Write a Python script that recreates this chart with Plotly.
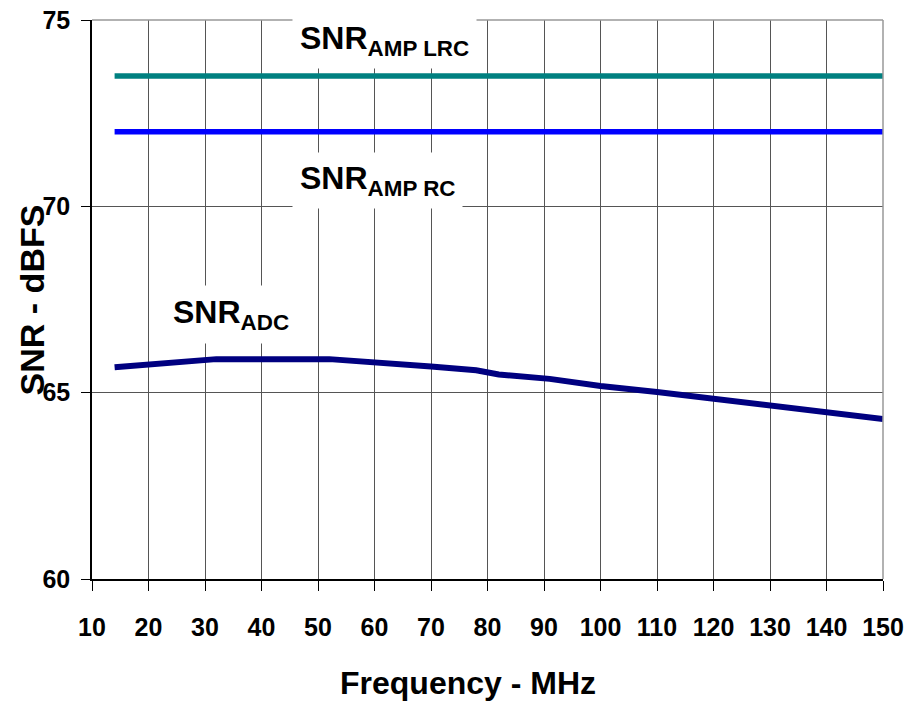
import plotly.graph_objects as go

# ---- data ----
freq_adc = [14, 26, 32, 52, 61, 70, 78, 82, 91, 100, 110, 120, 130, 140, 150]
snr_adc = [65.68, 65.80, 65.90, 65.90, 65.78, 65.70, 65.60, 65.49, 65.37,
           65.18, 65.02, 64.83, 64.64, 64.45, 64.29]
freq_amp = [14, 150]
snr_amp_lrc = [73.5, 73.5]
snr_amp_rc = [72.0, 72.0]
x_ticks = list(range(10, 151, 10))
y_ticks = [60, 65, 70, 75]

FONT = "Liberation Sans, Arial"

fig = go.Figure()
fig.add_trace(go.Scatter(x=freq_amp, y=snr_amp_lrc, mode="lines",
                         line=dict(color="#008080", width=5.5)))
fig.add_trace(go.Scatter(x=freq_amp, y=snr_amp_rc, mode="lines",
                         line=dict(color="#0000FF", width=5.5)))
fig.add_trace(go.Scatter(x=freq_adc, y=snr_adc, mode="lines",
                         line=dict(color="#000080", width=6)))

fig.update_layout(
    width=906, height=711,
    margin=dict(l=92, r=23, t=20, b=132, autoexpand=False),
    plot_bgcolor="white", paper_bgcolor="white",
    showlegend=False,
)
fig.update_xaxes(
    range=[10, 150], tickvals=x_ticks, showgrid=True, gridcolor="#555",
    gridwidth=1, showline=True, linecolor="black", linewidth=1.5,
    ticks="outside", ticklen=10, tickcolor="black", zeroline=False,
    tickfont=dict(family=FONT, size=25, color="black", weight="bold"),
    ticklabelstandoff=15, ticklabeloverflow="allow", automargin=False,
)
fig.update_yaxes(
    range=[60, 75], tickvals=y_ticks, showgrid=True, gridcolor="#555",
    gridwidth=1, showline=True, linecolor="black", linewidth=1.5,
    ticks="outside", ticklen=9, tickcolor="black", zeroline=False,
    tickfont=dict(family=FONT, size=25, color="black", weight="bold"),
    ticklabelstandoff=6, ticklabeloverflow="allow", automargin=False,
)

# top and right borders (gray)
fig.add_shape(type="line", xref="paper", yref="paper", x0=0, x1=1, y0=1, y1=1,
              line=dict(color="#999", width=1.5))
fig.add_shape(type="line", xref="paper", yref="paper", x0=1, x1=1, y0=0, y1=1,
              line=dict(color="#999", width=1.5))

lab_font = dict(family=FONT, size=32, color="black", weight="bold")
fig.add_annotation(x=45.4, y=74.44, xref="x", yref="y", xanchor="left",
                   yanchor="middle", text="SNR<sub>AMP LRC</sub>",
                   showarrow=False, font=lab_font, bgcolor="white",
                   borderpad=7)
fig.add_annotation(x=45.4, y=70.68, xref="x", yref="y", xanchor="left",
                   yanchor="middle", text="SNR<sub>AMP RC</sub>",
                   showarrow=False, font=lab_font, bgcolor="white",
                   borderpad=7)
fig.add_annotation(x=22.7, y=67.11, xref="x", yref="y", xanchor="left",
                   yanchor="middle", text="SNR<sub>ADC</sub>",
                   showarrow=False, font=lab_font, bgcolor="white",
                   borderpad=8)

# axis titles
fig.add_annotation(x=-0.076, y=0.5, xref="paper", yref="paper",
                   xanchor="center", yanchor="middle",
                   text="SNR - dBFS", textangle=-90, showarrow=False,
                   font=dict(family=FONT, size=34, color="black", weight="bold"))
fig.add_annotation(x=0.475, y=-0.186, xref="paper", yref="paper",
                   xanchor="center", yanchor="middle",
                   text="Frequency - MHz", showarrow=False,
                   font=dict(family=FONT, size=32, color="black", weight="bold"))

fig.write_html("out.html")
